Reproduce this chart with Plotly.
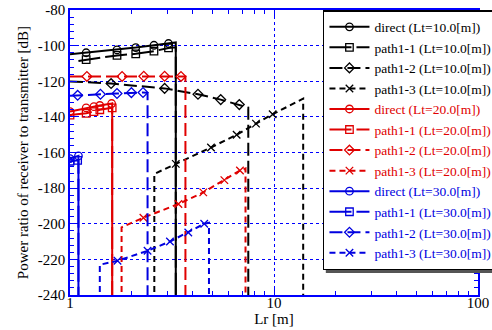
import plotly.graph_objects as go

FLOOR = -300.0  # signal cut off (below the axis)

# ---- Lt = 10 m (black) ----
lr_d10 = [1.0, 1.2, 1.7, 2.1, 2.58, 3.04, 3.3, 3.3]
db_d10 = [-104.9, -104.0, -102.4, -101.1, -99.8, -98.8, -98.2, FLOOR]
mk_d10 = [1, 2, 3, 4, 5]

lr_p11_10 = [1.1, 1.2, 1.7, 2.1, 2.58, 3.04, 3.3, 3.3]
db_p11_10 = [-108.6, -107.9, -105.5, -104.6, -103.1, -101.3, -100.9, FLOOR]
mk_p11_10 = [1, 2, 3, 4, 5]

lr_p12_10 = [1.0, 1.59, 2.91, 4.24, 5.48, 6.76, 7.48, 7.48]
db_p12_10 = [-120.1, -121.3, -124.0, -127.3, -130.3, -133.1, -134.8, FLOOR]
mk_p12_10 = [1, 2, 3, 4, 5]

lr_p13_10 = [2.59, 2.59, 3.30, 4.91, 6.56, 8.16, 9.85, 13.9, 13.9]
db_p13_10 = [FLOOR, -172.0, -166.4, -157.2, -150.0, -143.8, -138.5, -129.8, FLOOR]
mk_p13_10 = [2, 3, 4, 5, 6]

# ---- Lt = 20 m (red) ----
lr_d20 = [1.0, 1.2, 1.31, 1.4, 1.6, 1.61, 1.61]
db_d20 = [-137.0, -135.0, -134.3, -133.6, -132.5, -132.4, FLOOR]
mk_d20 = [0, 1, 2, 3, 4]

lr_p11_20 = [1.0, 1.2, 1.31, 1.4, 1.61, 1.61]
db_p11_20 = [-139.0, -138.0, -137.0, -136.0, -134.9, FLOOR]
mk_p11_20 = [0, 1, 2, 3, 4]

lr_p12_20 = [1.0, 1.21, 1.80, 2.30, 2.91, 3.50, 3.68, 3.68]
db_p12_20 = [-117.3, -117.3, -117.3, -117.2, -117.2, -117.3, -117.3, FLOOR]
mk_p12_20 = [1, 2, 3, 4, 5]

lr_p13_20 = [1.79, 1.79, 2.29, 3.40, 4.50, 5.71, 6.81, 7.25, 7.25]
db_p13_20 = [FLOOR, -202.0, -196.6, -188.9, -182.4, -175.5, -170.1, -169.0, FLOOR]
mk_p13_20 = [2, 3, 4, 5, 6]

# ---- Lt = 30 m (blue) ----
lr_d30 = [1.0, 1.1, 1.1]
db_d30 = [-163.4, -161.9, FLOOR]
mk_d30 = [0, 1]

lr_p11_30 = [1.0, 1.09, 1.1, 1.1]
db_p11_30 = [-164.9, -164.4, -164.3, FLOOR]
mk_p11_30 = [0, 1]

lr_p12_30 = [1.0, 1.09, 1.41, 1.70, 2.0, 2.28, 2.40, 2.40]
db_p12_30 = [-128.2, -127.9, -127.3, -126.9, -126.4, -126.3, -126.5, FLOOR]
mk_p12_30 = [1, 2, 3, 4, 5]

lr_p13_30 = [1.40, 1.40, 1.71, 2.40, 3.09, 3.80, 4.55, 4.80, 4.80]
db_p13_30 = [FLOOR, -223.0, -220.8, -215.2, -210.0, -204.9, -200.0, -199.4, FLOOR]
mk_p13_30 = [2, 3, 4, 5, 6]

y_ticks = [-80, -100, -120, -140, -160, -180, -200, -220, -240]
y_ticklabels = ["-80", "-100", "-120", "-140", "-160", "-180", "-200", "-220", "-240"]
x_ticks = [1, 10, 100]
x_ticklabels = ["1", "10", "100"]

BLACK, RED, BLUE = "#000000", "#e00000", "#0000e0"
FONT = "Liberation Serif"

styles = {
    "direct": dict(dash="solid", symbol="circle-open"),
    "path1-1": dict(dash="22px,5px", symbol="square-open"),
    "path1-2": dict(dash="13px,5px", symbol="diamond-open"),
    "path1-3": dict(dash="6px,4px", symbol="x-thin-open"),
}

series = [
    ("direct", "10.0", BLACK, lr_d10, db_d10, mk_d10),
    ("path1-1", "10.0", BLACK, lr_p11_10, db_p11_10, mk_p11_10),
    ("path1-2", "10.0", BLACK, lr_p12_10, db_p12_10, mk_p12_10),
    ("path1-3", "10.0", BLACK, lr_p13_10, db_p13_10, mk_p13_10),
    ("direct", "20.0", RED, lr_d20, db_d20, mk_d20),
    ("path1-1", "20.0", RED, lr_p11_20, db_p11_20, mk_p11_20),
    ("path1-2", "20.0", RED, lr_p12_20, db_p12_20, mk_p12_20),
    ("path1-3", "20.0", RED, lr_p13_20, db_p13_20, mk_p13_20),
    ("direct", "30.0", BLUE, lr_d30, db_d30, mk_d30),
    ("path1-1", "30.0", BLUE, lr_p11_30, db_p11_30, mk_p11_30),
    ("path1-2", "30.0", BLUE, lr_p12_30, db_p12_30, mk_p12_30),
    ("path1-3", "30.0", BLUE, lr_p13_30, db_p13_30, mk_p13_30),
]

fig = go.Figure()
for i, (kind, lt, color, xs, ys, mk) in enumerate(series):
    st = styles[kind]
    grp = f"g{i}"
    line = dict(color=color, width=2, dash=st["dash"])
    marker = dict(symbol=st["symbol"], size=7.5, color=color, line=dict(color=color, width=1.3))
    fig.add_trace(go.Scatter(x=xs, y=ys, mode="lines", line=line,
                             legendgroup=grp, showlegend=False, hoverinfo="skip"))
    fig.add_trace(go.Scatter(x=[xs[k] for k in mk], y=[ys[k] for k in mk], mode="markers",
                             marker=marker, legendgroup=grp, showlegend=False))
    name = f'<span style="color:{color}">{kind} (Lt={lt}[m])</span>'
    fig.add_trace(go.Scatter(x=[None], y=[None], mode="lines+markers", line=line,
                             marker=marker, name=name, legendgroup=grp, showlegend=True))

axis_common = dict(
    showline=True, linecolor="#0000ff", linewidth=1.5, mirror="ticks",
    ticks="inside", tickcolor="#0000ff", ticklen=7, tickwidth=1,
    showgrid=True, gridcolor="#0000ff", griddash="dot", gridwidth=1,
    zeroline=False, automargin=False,
    tickfont=dict(family=FONT, size=15, color="#000000"),
)

fig.update_xaxes(type="log", range=[0, 2], tickvals=x_ticks, ticktext=x_ticklabels,
                 ticklabelstandoff=-7,
                 minor=dict(ticks="inside", ticklen=4, tickcolor="#0000ff", dtick="D1", showgrid=False),
                 title=dict(text="Lr [m]", font=dict(family=FONT, size=15), standoff=2),
                 **axis_common)
fig.update_yaxes(range=[-240, -80], tickvals=y_ticks, ticktext=y_ticklabels,
                 minor=dict(ticks="inside", ticklen=4, tickcolor="#0000ff", dtick=4, showgrid=False),
                 title=dict(text="Power ratio of receiver to transmitter [dB]",
                            font=dict(family=FONT, size=15), standoff=6),
                 **axis_common)

# drop shadow behind the legend box
fig.add_shape(type="rect", xref="paper", yref="paper",
              x0=0.627, x1=1.04, y0=0.077, y1=0.988,
              fillcolor="#555555", line=dict(width=0), layer="above")

fig.update_layout(
    width=492, height=330,
    margin=dict(l=70, r=14, t=10, b=35, autoexpand=False),
    paper_bgcolor="white", plot_bgcolor="white",
    font=dict(family=FONT, size=13, color="#000000"),
    showlegend=True,
    legend=dict(x=0.62, y=1.0, xanchor="left", yanchor="top",
                bgcolor="white", bordercolor="#000000", borderwidth=1.5,
                itemwidth=40, font=dict(family=FONT, size=13.5),
                traceorder="normal", itemclick=False, itemdoubleclick=False),
)

fig.write_html("out.html", config={"displayModeBar": False},
               post_script="document.body.style.margin='0';")
